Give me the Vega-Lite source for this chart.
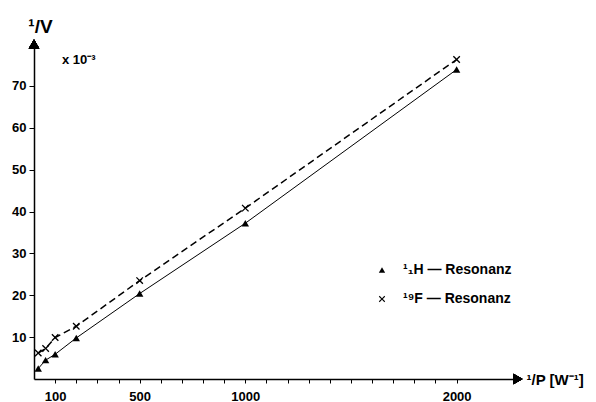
{
  "$schema": "https://vega.github.io/schema/vega-lite/v6.json",
  "width": 486,
  "height": 335,
  "autosize": "none",
  "padding": {"left": 34, "top": 44, "right": 76, "bottom": 23},
  "background": "white",
  "config": {
    "view": {"stroke": null},
    "font": "Liberation Sans",
    "axis": {
      "grid": false,
      "domainColor": "black",
      "tickColor": "black",
      "labelColor": "black",
      "titleColor": "black",
      "labelFont": "Liberation Sans",
      "titleFont": "Liberation Sans",
      "labelFontWeight": "bold",
      "labelFontSize": 13,
      "domainWidth": 1.5,
      "tickWidth": 1
    }
  },
  "title": {
    "text": "x 10⁻³",
    "anchor": "start",
    "frame": "group",
    "offset": 0,
    "dx": 28,
    "dy": 50,
    "fontSize": 13,
    "fontWeight": "bold",
    "font": "Liberation Sans",
    "color": "black"
  },
  "data": {
    "values": [
      {"p": 20, "v": 2.5, "series": "¹₁H — Resonanz"},
      {"p": 55, "v": 4.5, "series": "¹₁H — Resonanz"},
      {"p": 100, "v": 5.9, "series": "¹₁H — Resonanz"},
      {"p": 200, "v": 9.8, "series": "¹₁H — Resonanz"},
      {"p": 500, "v": 20.4, "series": "¹₁H — Resonanz"},
      {"p": 1000, "v": 37.2, "series": "¹₁H — Resonanz"},
      {"p": 2000, "v": 73.9, "series": "¹₁H — Resonanz"},
      {"p": 20, "v": 6.2, "series": "¹⁹F — Resonanz"},
      {"p": 55, "v": 7.3, "series": "¹⁹F — Resonanz"},
      {"p": 100, "v": 9.9, "series": "¹⁹F — Resonanz"},
      {"p": 200, "v": 12.6, "series": "¹⁹F — Resonanz"},
      {"p": 500, "v": 23.5, "series": "¹⁹F — Resonanz"},
      {"p": 1000, "v": 40.8, "series": "¹⁹F — Resonanz"},
      {"p": 2000, "v": 76.3, "series": "¹⁹F — Resonanz"}
    ]
  },
  "resolve": {"axis": {"x": "independent"}},
  "layer": [
    {
      "transform": [{"filter": "datum.series === '¹₁H — Resonanz'"}],
      "mark": {"type": "line", "color": "black", "strokeWidth": 1},
      "encoding": {
        "x": {
          "field": "p",
          "type": "quantitative",
          "scale": {"domain": [0, 2300], "nice": false},
          "axis": {
            "orient": "bottom",
            "values": [100, 200, 300, 400, 500, 600, 700, 800, 900, 1000, 1100, 1200, 1300, 1400, 1500, 1600, 1700, 1800, 1900, 2000],
            "labels": false,
            "tickSize": 4,
            "title": "¹/P  [W⁻¹]",
            "titleX": 492,
            "titleY": 0,
            "titleAlign": "left",
            "titleBaseline": "middle",
            "titleFontSize": 15,
            "titleFontWeight": "bold"
          }
        },
        "y": {
          "field": "v",
          "type": "quantitative",
          "scale": {"domain": [0, 80], "nice": false},
          "axis": {
            "values": [10, 20, 30, 40, 50, 60, 70],
            "tickSize": 5,
            "labelPadding": 3,
            "title": "¹/V",
            "titleAngle": 0,
            "titleX": 6,
            "titleY": -18,
            "titleAlign": "center",
            "titleBaseline": "middle",
            "titleFontSize": 19,
            "titleFontWeight": "bold"
          }
        }
      }
    },
    {
      "transform": [{"filter": "datum.series === '¹⁹F — Resonanz'"}],
      "mark": {"type": "line", "color": "black", "strokeWidth": 1.5, "strokeDash": [7, 4]},
      "encoding": {
        "x": {
          "field": "p",
          "type": "quantitative",
          "axis": {
            "orient": "bottom",
            "values": [100, 500, 1000, 2000],
            "format": "d",
            "ticks": false,
            "domain": false,
            "labelOverlap": false,
            "labelPadding": 11,
            "title": null
          }
        },
        "y": {"field": "v", "type": "quantitative"}
      }
    },
    {
      "mark": {"type": "point", "filled": true, "color": "black", "opacity": 1, "size": 55},
      "encoding": {
        "x": {"field": "p", "type": "quantitative", "axis": null},
        "y": {"field": "v", "type": "quantitative"},
        "shape": {
          "field": "series",
          "type": "nominal",
          "scale": {"domain": ["¹₁H — Resonanz", "¹⁹F — Resonanz"], "range": ["triangle-up", "M-1,-0.75L-0.75,-1L0,-0.25L0.75,-1L1,-0.75L0.25,0L1,0.75L0.75,1L0,0.25L-0.75,1L-1,0.75L-0.25,0Z"]},
          "legend": {
            "title": null,
            "orient": "none",
            "legendX": 341,
            "legendY": 219,
            "padding": 0,
            "symbolSize": 40,
            "symbolFillColor": "black",
            "symbolOpacity": 1,
            "labelFont": "Liberation Sans",
            "labelFontSize": 14,
            "labelFontWeight": "bold",
            "labelColor": "black",
            "labelOffset": 14,
            "rowPadding": 15,
            "labelLimit": 300
          }
        }
      }
    },
    {
      "mark": {"type": "point", "shape": "triangle-up", "filled": true, "color": "black", "opacity": 1, "size": 110},
      "encoding": {"x": {"datum": 0, "axis": null}, "y": {"datum": 80}}
    },
    {
      "mark": {"type": "point", "shape": "triangle-right", "filled": true, "color": "black", "opacity": 1, "size": 110},
      "encoding": {"x": {"datum": 2290, "axis": null}, "y": {"datum": 0}}
    }
  ]
}
